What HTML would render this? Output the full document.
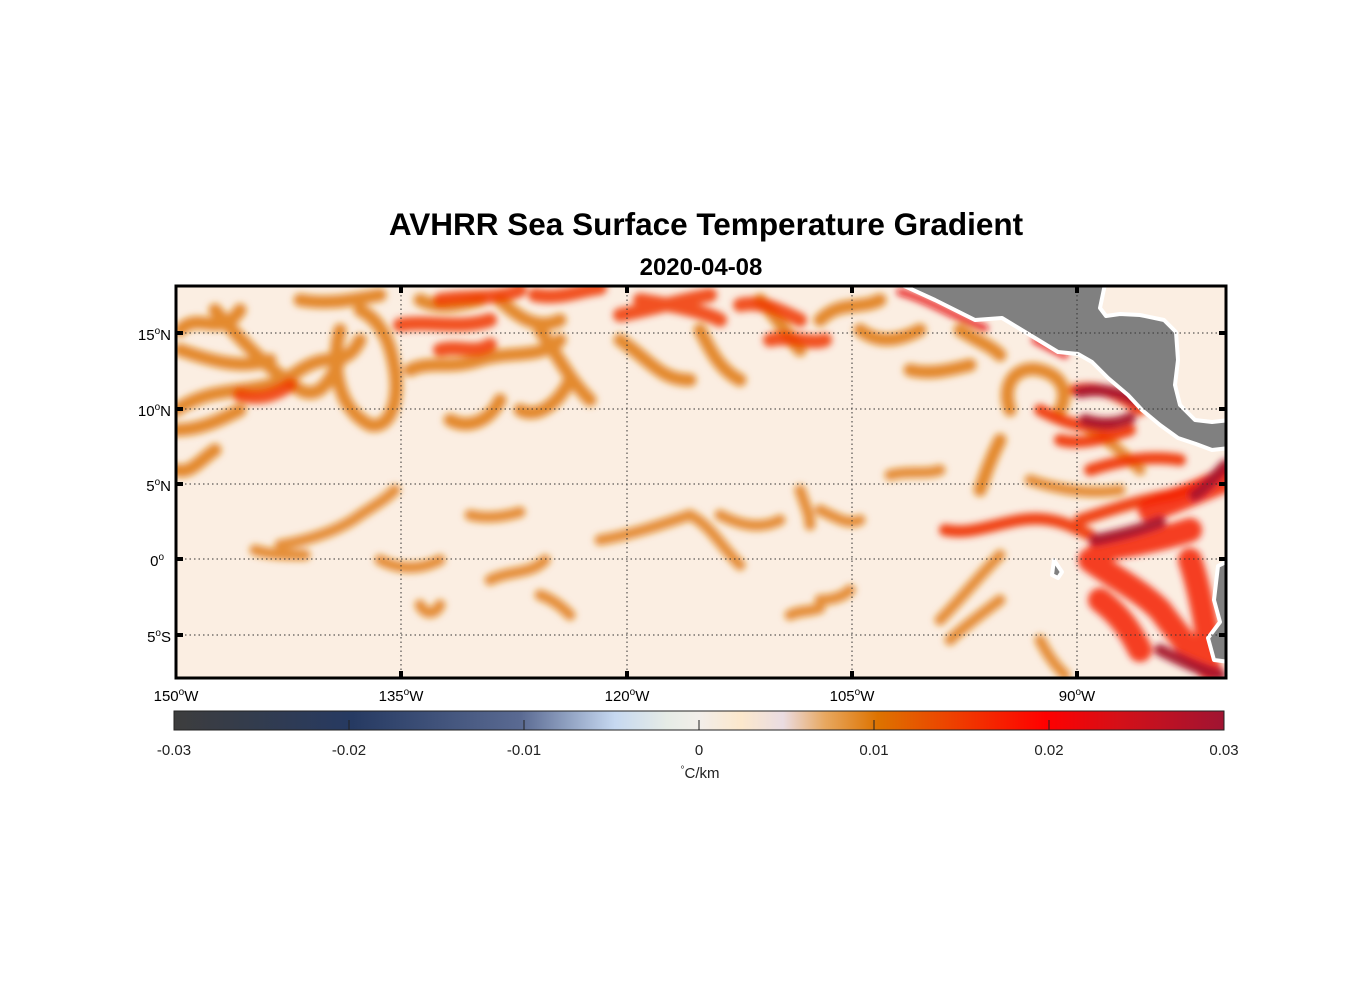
<!DOCTYPE html>
<html><head><meta charset="utf-8"><style>
body{margin:0;background:#fff;}
svg{display:block;font-family:"Liberation Sans",Arial,sans-serif;}
</style></head><body>
<svg width="1356" height="1000" viewBox="0 0 1356 1000" xmlns="http://www.w3.org/2000/svg">
<defs>
<linearGradient id="cb" x1="0" x2="1" y1="0" y2="0">
<stop offset="0" stop-color="#3d3d3d"/>
<stop offset="0.17" stop-color="#263a62"/>
<stop offset="0.33" stop-color="#5a6a92"/>
<stop offset="0.42" stop-color="#c6d8f0"/>
<stop offset="0.47" stop-color="#e6ece6"/>
<stop offset="0.5" stop-color="#f2eeea"/>
<stop offset="0.54" stop-color="#fce8cc"/>
<stop offset="0.58" stop-color="#eadce2"/>
<stop offset="0.62" stop-color="#e8a860"/>
<stop offset="0.67" stop-color="#dd7300"/>
<stop offset="0.75" stop-color="#f03a00"/>
<stop offset="0.83" stop-color="#ff0000"/>
<stop offset="0.9" stop-color="#d41018"/>
<stop offset="1" stop-color="#a01432"/>
</linearGradient>
<filter id="b" x="-20%" y="-20%" width="140%" height="140%"><feGaussianBlur stdDeviation="3.5"/></filter>
<clipPath id="cp"><rect x="176" y="286" width="1050" height="392"/></clipPath>
</defs>

<text x="706" y="235" text-anchor="middle" font-size="31.5" font-weight="bold">AVHRR Sea Surface Temperature Gradient</text>
<text x="701" y="275" text-anchor="middle" font-size="24" font-weight="bold">2020-04-08</text>

<g clip-path="url(#cp)">
<rect x="176" y="286" width="1050" height="392" fill="#fbeee2"/>
<g fill="none" stroke-linecap="round" filter="url(#b)">
<g stroke="#e07810" stroke-width="13" opacity="0.85">
<path d="M180,330 C200,310 220,340 240,310"/>
<path d="M176,410 C220,380 260,400 300,370 C330,350 345,370 360,340"/>
<path d="M180,350 C210,360 240,370 270,360"/>
<path d="M215,310 C240,340 270,370 300,390 C320,400 330,380 340,360"/>
<path d="M340,330 C330,370 340,410 370,425 C390,430 400,400 395,370 C390,340 380,320 360,310"/>
<path d="M176,430 C200,430 220,420 240,410"/>
<path d="M176,470 C190,475 200,460 215,450"/>
<path d="M300,300 C330,305 350,300 380,295"/>
<path d="M410,370 C430,360 450,370 480,360 C510,350 540,360 560,340"/>
<path d="M450,420 C470,430 490,420 500,400"/>
<path d="M520,410 C540,420 560,400 570,380"/>
<path d="M540,330 C560,360 570,380 590,400"/>
<path d="M620,340 C650,360 660,380 690,380"/>
<path d="M700,330 C710,350 720,370 740,380"/>
<path d="M760,300 C780,320 790,340 800,350"/>
<path d="M820,320 C840,300 860,310 880,300"/>
<path d="M860,330 C880,345 900,340 920,330"/>
<path d="M910,370 C930,375 950,370 970,365"/>
<path d="M960,330 C975,340 990,345 1000,355"/>
<path d="M1010,410 C1000,380 1020,365 1040,370 C1060,375 1070,390 1060,410"/>
<path d="M1000,440 C990,460 985,475 980,490"/>
<path d="M500,300 C520,320 540,330 560,320"/>
<path d="M420,300 C440,310 460,305 480,300"/>
</g>
<g stroke="#f03800" stroke-width="14" opacity="0.85">
<path d="M400,325 C430,320 460,330 490,320"/>
<path d="M440,300 C470,295 500,300 520,290"/>
<path d="M535,295 C560,300 580,290 600,288"/>
<path d="M620,315 C650,310 680,300 710,295"/>
<path d="M640,300 C670,305 700,310 720,320"/>
<path d="M740,305 C760,300 780,310 800,320"/>
<path d="M240,395 C260,400 275,395 290,385"/>
<path d="M440,350 C460,345 475,355 490,345"/>
<path d="M770,340 C790,335 810,345 825,340"/>
</g>
<g stroke="#e07810" stroke-width="11" opacity="0.8">
<path d="M280,545 C310,540 340,530 360,515 C375,505 385,500 395,490"/>
<path d="M255,550 C270,555 290,555 305,555"/>
<path d="M470,515 C490,520 510,515 520,512"/>
<path d="M380,560 C400,570 420,570 440,560"/>
<path d="M420,605 C425,615 435,615 440,605"/>
<path d="M490,580 C510,570 530,575 545,560"/>
<path d="M540,595 C555,600 565,610 570,615"/>
<path d="M600,540 C630,535 660,525 690,515 C710,525 720,545 740,565"/>
<path d="M720,515 C740,525 760,530 780,520"/>
<path d="M800,490 C805,505 810,515 810,525"/>
<path d="M820,510 C840,520 850,525 860,520"/>
<path d="M820,600 C835,600 845,595 850,590"/>
<path d="M790,615 C800,610 810,612 820,608"/>
<path d="M890,475 C910,470 925,475 940,470"/>
<path d="M1000,555 C980,575 960,600 940,620"/>
<path d="M1000,600 C980,615 960,630 950,640"/>
<path d="M1040,640 C1050,660 1060,670 1065,675"/>
<path d="M1090,430 C1110,440 1130,460 1140,470"/>
<path d="M1030,480 C1060,490 1090,495 1120,490"/>
</g>
<g stroke="#f03000" stroke-width="12" opacity="0.9">
<path d="M945,530 C970,535 990,525 1020,520 C1050,515 1070,525 1090,535"/>
<path d="M1080,520 C1110,510 1140,500 1170,495 C1190,490 1210,480 1226,470"/>
<path d="M1040,410 C1060,420 1080,430 1110,425"/>
<path d="M1075,390 C1100,385 1120,395 1140,410"/>
<path d="M1060,440 C1080,445 1100,440 1130,430"/>
<path d="M1090,470 C1120,460 1150,455 1180,460"/>
</g>
<g stroke="#f52000" stroke-width="24" opacity="0.85">
<path d="M1090,560 C1110,575 1140,590 1160,610 C1175,630 1190,650 1210,670"/>
<path d="M1100,600 C1120,615 1130,630 1140,650"/>
<path d="M1100,550 C1130,545 1160,540 1190,530"/>
<path d="M1150,510 C1180,500 1200,490 1226,480"/>
<path d="M1190,560 C1200,590 1205,620 1210,650"/>
</g>
<g stroke="#a8142e" stroke-width="12" opacity="0.95">
<path d="M1080,392 C1100,388 1120,392 1135,400"/>
<path d="M1095,540 C1120,535 1140,530 1160,522"/>
<path d="M1160,650 C1180,660 1200,670 1220,675"/>
<path d="M1195,495 C1210,485 1220,470 1226,465"/>
<path d="M1085,420 C1100,425 1115,425 1130,418"/>
</g>
<g stroke="#e81010" stroke-width="7" opacity="0.9">
<path d="M900,292 C930,300 960,320 985,328"/>
<path d="M1035,340 C1045,345 1055,350 1065,355"/>
</g>
</g>

<g fill="#808080" stroke="#ffffff" stroke-width="4" stroke-linejoin="round">
<path d="M900,284 L935,300 L975,320 L1002,318 L1035,338 L1058,352 L1078,354 L1092,362 L1108,378 L1128,395 L1142,410 L1160,425 L1178,438 L1196,444 L1212,450 L1230,448 L1230,420 L1212,422 L1195,420 L1180,405 L1175,385 L1178,360 L1176,332 L1164,320 L1140,315 L1120,314 L1106,316 L1100,308 L1105,284 Z"/>
<path d="M1230,560 L1218,566 L1214,600 L1220,622 L1208,638 L1214,660 L1230,662 Z"/>
<path d="M1054,560 L1052,575 L1058,578 L1062,572 Z"/>
</g>

<g stroke="#333" stroke-width="1" stroke-dasharray="1.5,3">
<line x1="401" y1="286" x2="401" y2="678"/>
<line x1="627" y1="286" x2="627" y2="678"/>
<line x1="852" y1="286" x2="852" y2="678"/>
<line x1="1077" y1="286" x2="1077" y2="678"/>
<line x1="176" y1="333" x2="1226" y2="333"/>
<line x1="176" y1="409" x2="1226" y2="409"/>
<line x1="176" y1="484" x2="1226" y2="484"/>
<line x1="176" y1="559" x2="1226" y2="559"/>
<line x1="176" y1="635" x2="1226" y2="635"/>
</g>
</g>
<rect x="176" y="286" width="1050" height="392" fill="none" stroke="#000" stroke-width="3"/>
<g stroke="#000" stroke-width="4">
<line x1="401" y1="286" x2="401" y2="293"/><line x1="627" y1="286" x2="627" y2="293"/><line x1="852" y1="286" x2="852" y2="293"/><line x1="1077" y1="286" x2="1077" y2="293"/>
<line x1="401" y1="678" x2="401" y2="671"/><line x1="627" y1="678" x2="627" y2="671"/><line x1="852" y1="678" x2="852" y2="671"/><line x1="1077" y1="678" x2="1077" y2="671"/>
<line x1="176" y1="333" x2="183" y2="333"/><line x1="176" y1="409" x2="183" y2="409"/><line x1="176" y1="484" x2="183" y2="484"/><line x1="176" y1="559" x2="183" y2="559"/><line x1="176" y1="635" x2="183" y2="635"/>
<line x1="1226" y1="333" x2="1219" y2="333"/><line x1="1226" y1="409" x2="1219" y2="409"/><line x1="1226" y1="484" x2="1219" y2="484"/><line x1="1226" y1="559" x2="1219" y2="559"/><line x1="1226" y1="635" x2="1219" y2="635"/>
</g>

<g font-size="15" fill="#000">
<text x="171" y="340" text-anchor="end">15<tspan dy="-6" font-size="10">o</tspan><tspan dy="6">N</tspan></text>
<text x="171" y="416" text-anchor="end">10<tspan dy="-6" font-size="10">o</tspan><tspan dy="6">N</tspan></text>
<text x="171" y="491" text-anchor="end">5<tspan dy="-6" font-size="10">o</tspan><tspan dy="6">N</tspan></text>
<text x="164" y="566" text-anchor="end">0<tspan dy="-6" font-size="10">o</tspan></text>
<text x="171" y="642" text-anchor="end">5<tspan dy="-6" font-size="10">o</tspan><tspan dy="6">S</tspan></text>
<text x="176" y="701" text-anchor="middle">150<tspan dy="-6" font-size="10">o</tspan><tspan dy="6">W</tspan></text>
<text x="401" y="701" text-anchor="middle">135<tspan dy="-6" font-size="10">o</tspan><tspan dy="6">W</tspan></text>
<text x="627" y="701" text-anchor="middle">120<tspan dy="-6" font-size="10">o</tspan><tspan dy="6">W</tspan></text>
<text x="852" y="701" text-anchor="middle">105<tspan dy="-6" font-size="10">o</tspan><tspan dy="6">W</tspan></text>
<text x="1077" y="701" text-anchor="middle">90<tspan dy="-6" font-size="10">o</tspan><tspan dy="6">W</tspan></text>
</g>

<rect x="174" y="711" width="1050" height="19" fill="url(#cb)" stroke="#222" stroke-width="1"/>
<g stroke="#222" stroke-width="1">
<line x1="349" y1="720" x2="349" y2="730"/><line x1="524" y1="720" x2="524" y2="730"/><line x1="699" y1="720" x2="699" y2="730"/><line x1="874" y1="720" x2="874" y2="730"/><line x1="1049" y1="720" x2="1049" y2="730"/>
</g>
<g font-size="15" fill="#222" text-anchor="middle">
<text x="174" y="755">-0.03</text>
<text x="349" y="755">-0.02</text>
<text x="524" y="755">-0.01</text>
<text x="699" y="755">0</text>
<text x="874" y="755">0.01</text>
<text x="1049" y="755">0.02</text>
<text x="1224" y="755">0.03</text>
<text x="700" y="778"><tspan font-size="10" dy="-5">°</tspan><tspan dy="5">C/km</tspan></text>
</g>
</svg>
</body></html>
